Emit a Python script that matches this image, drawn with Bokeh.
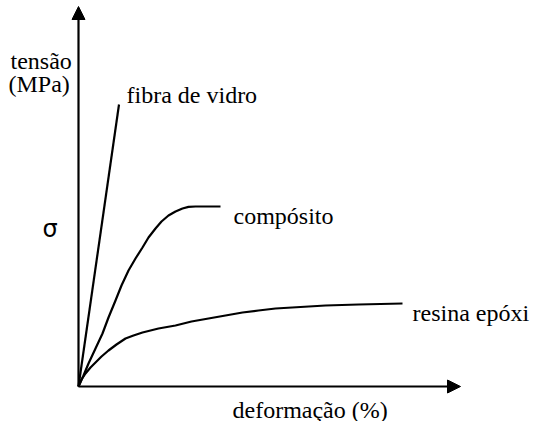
from bokeh.plotting import figure
from bokeh.models import Range1d, Arrow, NormalHead, Label
from bokeh.embed import file_html
from bokeh.resources import INLINE

# qualitative stress-strain data (arbitrary units: strain, stress)
fiber_strain = [0.0, 1.0125]
fiber_stress = [0.0, 7.05]

composite_strain = [0.0, 0.125, 0.25, 0.425, 0.6, 0.75, 0.925, 1.075, 1.25, 1.425, 1.6,
                    1.75, 1.925, 2.075, 2.25, 2.425, 2.6, 2.75, 2.925, 3.55]
composite_stress = [0.0, 0.275, 0.575, 0.95, 1.325, 1.725, 2.15, 2.525, 2.9, 3.2, 3.475,
                    3.725, 3.95, 4.125, 4.275, 4.375, 4.45, 4.49, 4.5, 4.5]

resin_strain = [0.0, 0.075, 0.175, 0.3, 0.425, 0.575, 0.75, 0.95, 1.175, 1.375, 1.6, 2.0,
                2.425, 2.825, 3.25, 3.675, 4.1, 4.5, 4.925, 5.55, 6.175, 7.0, 8.1]
resin_stress = [0.0, 0.175, 0.325, 0.475, 0.6, 0.75, 0.9, 1.05, 1.2, 1.275, 1.35, 1.45,
                1.525, 1.625, 1.7, 1.775, 1.85, 1.9, 1.95, 1.9875, 2.025, 2.05, 2.075]

x_axis_end = 9.55
y_axis_end = 9.5

labels = {
    "fiber": "fibra de vidro",
    "composite": "compósito",
    "resin": "resina epóxi",
    "xlabel": "deformação (%)",
    "ylabel1": "tensão",
    "ylabel2": "(MPa)",
    "sigma": "σ",
}

W, H = 534, 421
p = figure(width=W, height=H, output_backend="svg", toolbar_location=None,
           x_range=Range1d(-1.95, 11.4), y_range=Range1d(-0.875, 9.65),
           min_border=0, outline_line_color=None)
p.axis.visible = False
p.grid.visible = False
p.background_fill_color = "white"
p.border_fill_color = "white"

FONT = "Liberation Serif"
FS = "24px"

# axes arrows
p.add_layout(Arrow(end=NormalHead(size=13, fill_color="black", line_color="black"),
                   x_start=0, y_start=0, x_end=x_axis_end, y_end=0,
                   line_width=2.2, line_color="black"))
p.add_layout(Arrow(end=NormalHead(size=13, fill_color="black", line_color="black"),
                   x_start=0, y_start=0, x_end=0, y_end=y_axis_end,
                   line_width=2.2, line_color="black"))

for xs, ys in [(fiber_strain, fiber_stress), (composite_strain, composite_stress),
               (resin_strain, resin_stress)]:
    p.line(xs, ys, line_width=2.2, line_color="black", line_join="round", line_cap="butt")

def lab(x, y, t, font=FONT, align="left"):
    p.add_layout(Label(x=x, y=y, text=t, text_font=font, text_font_size=FS,
                       text_color="black", text_align=align, text_baseline="alphabetic"))

lab(1.2, 7.3, labels["fiber"])
lab(3.875, 4.275, labels["composite"])
lab(8.35, 1.85, labels["resin"])
lab(3.85, -0.575, labels["xlabel"])
lab(-1.7, 8.15, labels["ylabel1"])
lab(-1.75, 7.575, labels["ylabel2"])
lab(-0.7125, 3.95, labels["sigma"], font="DejaVu Sans", align="center")

open("out.html", "w").write(file_html(p, INLINE))
